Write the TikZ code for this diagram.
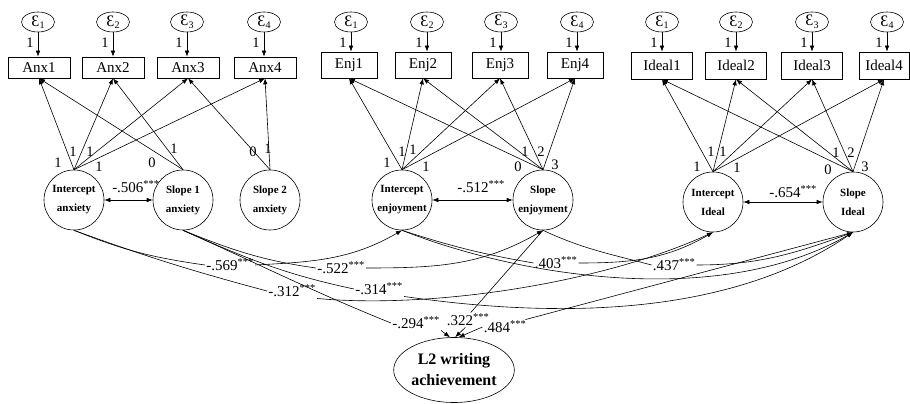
\documentclass[tikz,border=0pt]{standalone}
\usepackage{fontspec}
\setmainfont{Liberation Serif}
\usetikzlibrary{arrows.meta,shapes.geometric}
\newcommand\myeps[1]{{\fontsize{16}{16}\selectfont Ɛ}\kern0.2pt\raisebox{-2.5pt}{\fontsize{10}{10}\selectfont #1}}
\begin{document}
\begin{tikzpicture}[x=1pt,y=1pt, line width=0.6pt,
  arr/.style={-{Latex[length=6pt,width=4.5pt]}},
  darr/.style={{Latex[length=6pt,width=4.5pt]}-{Latex[length=6pt,width=4.5pt]}},
  err/.style={ellipse,draw,minimum width=33pt,minimum height=20pt,inner sep=0pt},
  obs/.style={rectangle,draw,inner sep=0pt,font=\fontsize{15}{15}\selectfont},
  lat/.style={circle,draw,minimum size=60pt,inner sep=0pt,align=center,font=\bfseries\fontsize{11}{19}\selectfont},
  num/.style={inner sep=0pt,font=\fontsize{14.5}{14.5}\selectfont},
  coef/.style={inner sep=1pt,font=\fontsize{15}{15}\selectfont},
  outc/.style={ellipse,draw,minimum width=110pt,minimum height=65pt,inner sep=0pt,align=center,font=\bfseries\fontsize{16}{21}\selectfont},
]
\useasboundingbox (0,0) rectangle (910,404);

% ---------- error terms ----------
\foreach \n/\x in {ea1/38,ea2/113,ea3/187,ea4/264,ee1/351,ee2/427,ee3/501,ee4/577,ei1/662,ei2/736,ei3/812,ei4/887}{
  \node[err] (\n) at (\x,382) {};
}
\node at (ea1) {\myeps{1}}; \node at (ea2) {\myeps{2}}; \node at (ea3) {\myeps{3}}; \node at (ea4) {\myeps{4}};
\node at (ee1) {\myeps{1}}; \node at (ee2) {\myeps{2}}; \node at (ee3) {\myeps{3}}; \node at (ee4) {\myeps{4}};
\node at (ei1) {\myeps{1}}; \node at (ei2) {\myeps{2}}; \node at (ei3) {\myeps{3}}; \node at (ei4) {\myeps{4}};

% ---------- observed boxes ----------
\node[obs,minimum width=62pt,minimum height=21pt] (a1) at (39,336.5) {Anx1};
\node[obs,minimum width=62pt,minimum height=21pt] (a2) at (113,336.5) {Anx2};
\node[obs,minimum width=62pt,minimum height=21pt] (a3) at (188,336.5) {Anx3};
\node[obs,minimum width=62pt,minimum height=21pt] (a4) at (265,336.5) {Anx4};
\node[obs,minimum width=56pt,minimum height=26pt] (n1) at (349,339) {Enj1};
\node[obs,minimum width=56pt,minimum height=26pt] (n2) at (423,339) {Enj2};
\node[obs,minimum width=56pt,minimum height=26pt] (n3) at (500,339) {Enj3};
\node[obs,minimum width=56pt,minimum height=26pt] (n4) at (575,339) {Enj4};
\node[obs,minimum width=61pt,minimum height=27pt] (d1) at (662,338.5) {Ideal1};
\node[obs,minimum width=61pt,minimum height=27pt] (d2) at (736,338.5) {Ideal2};
\node[obs,minimum width=61pt,minimum height=27pt] (d3) at (812,338.5) {Ideal3};
\node[obs,minimum width=50pt,minimum height=27pt] (d4) at (884,338.5) {Ideal4};

% error arrows with "1"
\foreach \e/\b in {ea1/a1,ea2/a2,ea3/a3,ea4/a4,ee1/n1,ee2/n2,ee3/n3,ee4/n4,ei1/d1,ei2/d2,ei3/d3,ei4/d4}{
  \draw[arr] (\e.south) -- (\e.south |- \b.north);
  \node[num] (o\e) at ([xshift=-8pt,yshift=-10pt]\e.south) {1};
}

% ---------- latent factors ----------
\node[lat] (ia) at (74,204) {Intercept\\anxiety};
\node[lat] (s1a) at (183,204) {Slope 1\\anxiety};
\node[lat] (s2a) at (270,204) {Slope 2\\anxiety};
\node[lat] (ie) at (402,204) {Intercept\\enjoyment};
\node[lat] (se) at (543,204) {Slope\\enjoyment};
\node[lat] (ii) at (713,202) {Intercept\\Ideal};
\node[lat] (si) at (853,202) {Slope\\Ideal};
\node[outc] (lwa) at (454,34) {L2 writing\\achievement};

% ---------- loadings ----------
\foreach \b in {a1,a2,a3,a4} \draw[arr] (ia.north) -- (\b.south);
\draw[arr] (s1a.north) -- (a1.south);
\draw[arr] (s1a.north) -- (a2.south);
\draw[arr] (s2a.north) -- (a3.south);
\draw[arr] (s2a.north) -- (a4.south);
\foreach \b in {n1,n2,n3,n4} {\draw[arr] (ie.north) -- (\b.south); \draw[arr] (se.north) -- (\b.south);}
\foreach \b in {d1,d2,d3,d4} {\draw[arr] (ii.north) -- (\b.south); \draw[arr] (si.north) -- (\b.south);}

% loading values
\foreach \n/\x/\y/\t in {
  1/58/241/1, 2/73/252/1, 3/90/252/1, 4/99/237/1,
  5/152/241/0, 6/174/255/1, 7/253/252/0, 8/268/255/1,
  9/387/241/1, 10/402/252/1, 11/413/254/1, 12/426/237/1,
  13/518/237/0, 14/525/252/1, 15/541/252/2, 16/555/239/3,
  17/697/237/1, 18/711/252/1, 19/723/252/1, 20/737/236/1,
  21/828/234/0, 22/836/251/1, 23/851/251/2, 24/865/237/3}{
  \node[num] (lv\n) at (\x,\y) {\t};
}

% ---------- covariances ----------
\draw[darr] (ia.east) -- (s1a.west);
\draw[darr] (ie.east) -- (se.west);
\draw[darr] (ii.east) -- (si.west);
\node[coef] (c506) at (136,217) {-.506\textsuperscript{***}};
\node[coef] (c512) at (481,217) {-.512\textsuperscript{***}};
\node[coef] (c654) at (793,212) {-.654\textsuperscript{***}};

% ---------- structural labels ----------
\node[coef] (c569) at (230,139) {-.569\textsuperscript{***}};
\node[coef] (c522) at (341,136) {-.522\textsuperscript{***}};
\node[coef] (c312) at (292,113) {-.312\textsuperscript{***}};
\node[coef] (c314) at (379,115) {-.314\textsuperscript{***}};
\node[coef] (c294) at (416,81) {-.294\textsuperscript{***}};
\node[coef] (c322) at (468,84) {.322\textsuperscript{***}};
\node[coef] (c484) at (505,77) {.484\textsuperscript{***}};
\node[coef] (c403) at (556,141) {.403\textsuperscript{***}};
\node[coef] (c437) at (674,139) {.437\textsuperscript{***}};

% ---------- structural paths ----------
\draw (ia.south) to[out=-22,in=172] (c569.west);
\draw[arr] (c569.east) to[out=3,in=-150] (ie.south);
\draw (ia.south) to[out=-20,in=165] (c312.west);
\draw[arr] (c312.south east) .. controls (430,95) and (600,120) .. (ii.south);
\draw (s1a.south) to[out=-22,in=172] (c522.west);
\draw[arr] (c522.east) to[out=0,in=-150] (se.south);
\draw (s1a.south) to[out=-24,in=168] (c314.west);
\draw[arr] (c314.south east) .. controls (560,85) and (730,88) .. (si.south);
\draw (s1a.south) to[out=-24,in=158] (c294.west);
\draw[arr] (c294.south east) -- (lwa.97);
\draw (se.south) -- (c322.70);
\draw[arr] (c322.-110) -- (lwa.88);
\draw (si.south) -- (c484.20);
\draw[arr] (c484.west) -- (lwa.82);
\draw (ie.south) to[out=-18,in=170] (c403.west);
\draw[arr] (c403.east) to[out=0,in=-150] (ii.south);
\draw[arr] (ie.south) .. controls (520,127) and (720,95) .. (si.south);
\draw (se.south) to[out=-25,in=165] (c437.west);
\draw[arr] (c437.east) to[out=0,in=-160] (si.south);
\end{tikzpicture}
\end{document}
